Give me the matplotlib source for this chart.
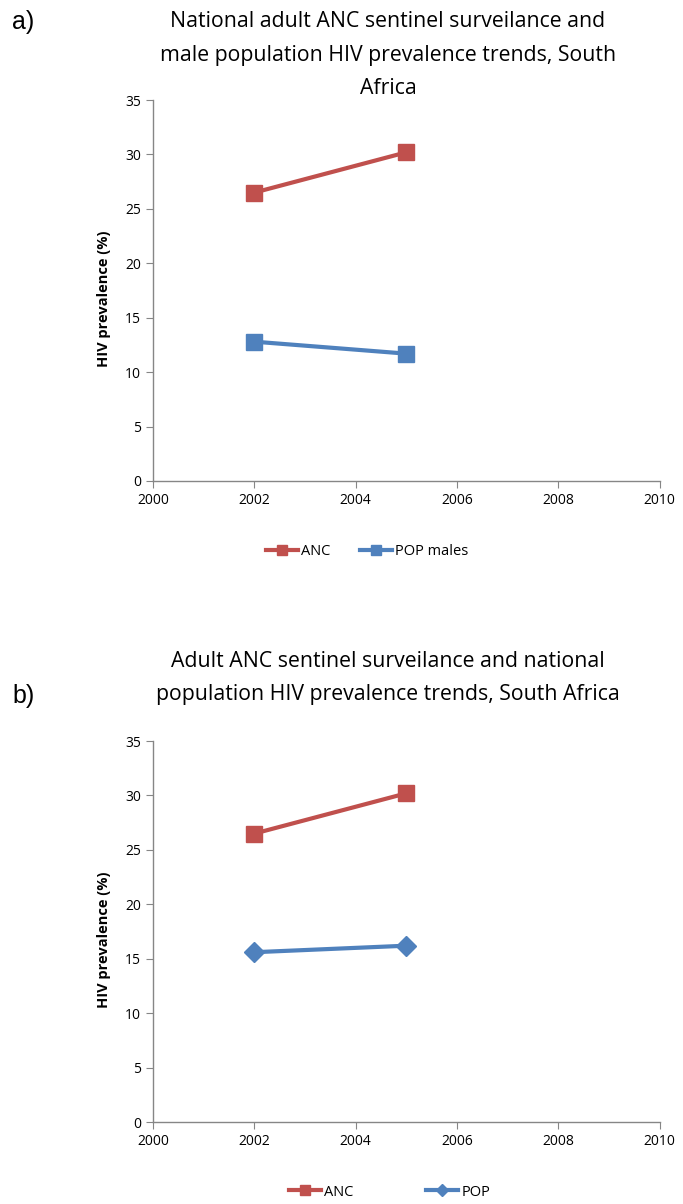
import numpy as np
import matplotlib.pyplot as plt

years = [2002, 2005]
anc = [26.5, 30.2]
pop_males = [12.8, 11.7]
anc_b = [26.5, 30.2]
pop_b = [15.6, 16.2]

title_a = "National adult ANC sentinel surveilance and\nmale population HIV prevalence trends, South\nAfrica"
title_b = "Adult ANC sentinel surveilance and national\npopulation HIV prevalence trends, South Africa"

red = '#c0504d'
blue = '#4f81bd'
grey = '#868686'
font = ['Open Sans', 'DejaVu Sans']

fig = plt.figure(figsize=(6.83, 12.04), dpi=100)


def style_axes(ax):
    ax.set_xlim(2000, 2010)
    ax.set_ylim(0, 35)
    ax.set_xticks(range(2000, 2011, 2))
    ax.set_yticks(range(0, 36, 5))
    for s in ['top', 'right']:
        ax.spines[s].set_visible(False)
    for s in ['left', 'bottom']:
        ax.spines[s].set_color(grey)
        ax.spines[s].set_linewidth(1)
    ax.tick_params(colors=grey, length=5, labelcolor='black', labelsize=10)
    for lab in ax.get_xticklabels() + ax.get_yticklabels():
        lab.set_family(font)
    ax.set_ylabel('HIV prevalence (%)', fontsize=10.5, fontweight='bold', family=font)
    ax.yaxis.set_label_coords(-0.083, 0.478)


# panel a
ax1 = fig.add_axes([0.224, 0.6005, 0.742, 0.3164])
ax1.plot(years, anc, color=red, lw=3, marker='s', ms=11, label='ANC')
ax1.plot(years, pop_males, color=blue, lw=3, marker='s', ms=11, label='POP males')
style_axes(ax1)
ax1.legend(loc='center', bbox_to_anchor=(0.422, -0.186), ncol=2, frameon=False,
           prop={'family': font, 'size': 10.5}, columnspacing=2.0, handlelength=2.2,
           markerscale=0.6, handletextpad=0.2)
fig.text(0.568, 0.9543, title_a, ha='center', va='center', fontsize=15.3, family=font, linespacing=1.78)
fig.text(0.0176, 0.9817, 'a)', ha='left', va='center', fontsize=18, family='Liberation Sans')

# panel b
ax2 = fig.add_axes([0.224, 0.0681, 0.742, 0.3164])
ax2.plot(years, anc_b, color=red, lw=3, marker='s', ms=11, label='ANC')
ax2.plot(years, pop_b, color=blue, lw=3, marker='D', ms=10, label='POP')
style_axes(ax2)
ax2.legend(loc='center', bbox_to_anchor=(0.467, -0.184), ncol=2, frameon=False,
           prop={'family': font, 'size': 10.5}, columnspacing=5.0, handlelength=2.2,
           markerscale=0.6, handletextpad=0.2)
fig.text(0.568, 0.4369, title_b, ha='center', va='center', fontsize=15.3, family=font, linespacing=1.78)
fig.text(0.0176, 0.4219, 'b)', ha='left', va='center', fontsize=18, family='Liberation Sans')

fig.savefig('out.png', dpi=100)
